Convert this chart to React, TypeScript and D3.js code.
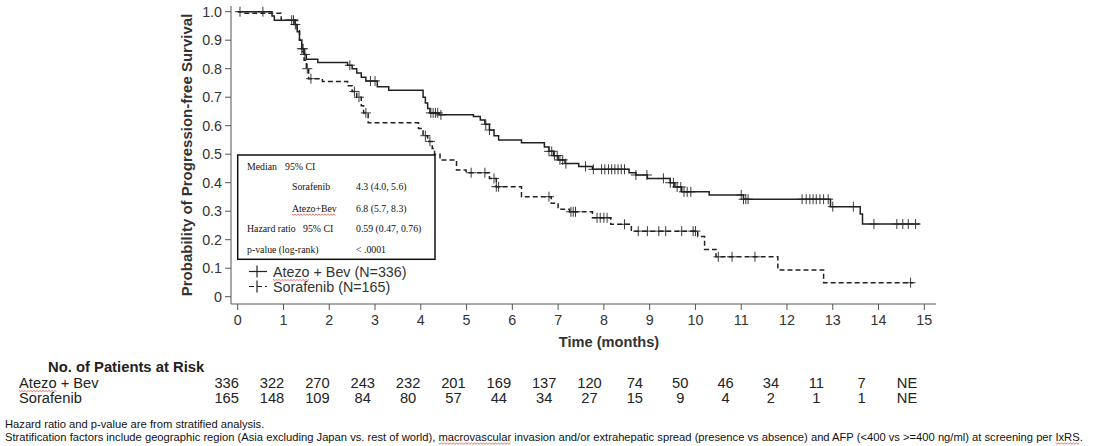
import React, { useEffect, useRef, useState } from "react";
import * as d3 from "d3";

// ---- Data ----
const atezoSteps: [number, number][] = [
  [0, 1.0], [0.75, 0.985], [0.8, 0.97],
  [1.25, 0.955], [1.3, 0.93], [1.35, 0.9], [1.4, 0.87], [1.45, 0.85], [1.5, 0.833],
  [1.75, 0.822],
  [2.4, 0.812], [2.5, 0.8], [2.6, 0.785], [2.7, 0.77], [2.8, 0.757],
  [3.05, 0.737], [3.3, 0.724],
  [4.05, 0.7], [4.1, 0.68], [4.15, 0.66], [4.2, 0.645],
  [4.4, 0.638],
  [5.15, 0.632], [5.3, 0.62], [5.4, 0.605], [5.5, 0.585], [5.6, 0.565], [5.7, 0.55],
  [6.2, 0.54],
  [6.7, 0.525], [6.8, 0.51], [6.9, 0.495], [7.0, 0.48], [7.15, 0.467],
  [7.45, 0.457], [7.75, 0.447], [8.55, 0.435], [8.7, 0.427],
  [8.95, 0.415],
  [9.45, 0.4], [9.55, 0.385], [9.7, 0.368],
  [10.3, 0.357],
  [11.05, 0.342],
  [12.95, 0.316],
  [13.6, 0.29], [13.65, 0.255],
];
const atezoEnd = 14.9;
const atezoCensor: number[] = [
  0.05, 0.55, 1.18, 1.22, 1.26, 1.4, 1.43, 1.47, 2.45, 2.9, 3.0,
  4.22, 4.27, 4.32, 4.37, 4.44, 5.42, 5.5, 6.8, 6.86, 6.92, 6.98, 7.04, 7.1, 7.17,
  7.6, 7.77, 7.95, 8.02, 8.1, 8.17, 8.24, 8.31, 8.38, 8.45, 8.7, 8.94,
  9.3, 9.45, 9.52, 9.6, 9.68, 9.75, 9.82, 9.9,
  11.0, 11.05, 11.1, 11.15, 12.33, 12.42, 12.5, 12.57, 12.64, 12.72, 12.8, 12.9,
  13.0, 13.45, 13.9, 14.4, 14.53, 14.65, 14.81,
];

const soraSteps: [number, number][] = [
  [0, 1.0], [0.1, 0.995], [0.95, 0.97],
  [1.3, 0.94], [1.35, 0.9], [1.4, 0.86], [1.45, 0.83], [1.5, 0.8], [1.55, 0.765],
  [1.85, 0.755],
  [2.4, 0.74], [2.5, 0.72], [2.6, 0.7], [2.7, 0.67], [2.75, 0.645], [2.85, 0.61],
  [3.95, 0.59], [4.05, 0.565], [4.15, 0.545], [4.25, 0.52], [4.3, 0.5],
  [4.42, 0.48],
  [4.78, 0.445], [4.99, 0.435],
  [5.5, 0.415], [5.65, 0.386],
  [6.2, 0.351],
  [6.85, 0.328], [7.0, 0.307], [7.25, 0.298],
  [7.75, 0.277], [8.15, 0.254], [8.6, 0.23],
  [10.05, 0.211], [10.2, 0.166], [10.45, 0.14],
  [11.8, 0.094], [12.8, 0.049],
];
const soraEnd = 14.76;
const soraCensor: number[] = [
  1.52, 1.6, 2.55, 2.65, 2.8, 4.1, 4.2, 5.1, 5.4, 5.6, 5.65, 5.7, 6.8,
  7.28, 7.33, 7.38, 7.85, 7.92, 8.0, 8.07, 8.45, 8.75, 8.95, 9.2, 9.35, 9.7,
  9.95, 10.0, 10.5, 10.8, 11.3, 14.7,
];

const xTicks = d3.range(0, 16);
const yTicks = [0, 0.1, 0.2, 0.3, 0.4, 0.5, 0.6, 0.7, 0.8, 0.9, 1.0];
const riskAtezo = ["336", "322", "270", "243", "232", "201", "169", "137", "120", "74", "50", "46", "34", "11", "7", "NE"];
const riskSora = ["165", "148", "109", "84", "80", "57", "44", "34", "27", "15", "9", "4", "2", "1", "1", "NE"];

const boxRows = [
  { label: "Median", label2: "95% CI", value: "" },
  { label: "", sub: "Sorafenib", value: "4.3 (4.0, 5.6)" },
  { label: "", sub: "Atezo+Bev", value: "6.8 (5.7, 8.3)" },
  { label: "Hazard ratio", label2: "95% CI", value: "0.59 (0.47, 0.76)" },
  { label: "p-value (log-rank)", value: "< .0001" },
];

const footnotes = [
  "Hazard ratio and p-value are from stratified analysis.",
  "Stratification factors include geographic region (Asia excluding Japan vs. rest of world), macrovascular invasion and/or extrahepatic spread (presence vs absence) and AFP (<400 vs >=400 ng/ml) at screening per IxRS.",
];

// ---- Layout ----
const W = 1094;
const H = 446;
const x = d3.scaleLinear().domain([0, 15]).range([237.7, 924.3]);
const y = d3.scaleLinear().domain([0, 1]).range([296.7, 11.7]);
const xr = d3.scaleLinear().domain([0, 15]).range([226.7, 907]);

const SANS = "'Liberation Sans', Arial, sans-serif";
const SERIF = "'Liberation Serif', 'Times New Roman', serif";
const LINE = "#222";
const AXIS = "#555";

function stepValue(steps: [number, number][], t: number) {
  let v = steps[0][1];
  for (const [tt, vv] of steps) {
    if (tt <= t) v = vv;
    else break;
  }
  return v;
}

const lineGen = d3
  .line<[number, number]>()
  .x((d) => x(d[0]))
  .y((d) => y(d[1]))
  .curve(d3.curveStepAfter);

function Curve({ steps, end, censor, dash }: { steps: [number, number][]; end: number; censor: number[]; dash?: string }) {
  const pts: [number, number][] = [...steps, [end, steps[steps.length - 1][1]]];
  return (
    <g>
      <path d={lineGen(pts) || ""} fill="none" stroke={LINE} strokeWidth={1.5} strokeDasharray={dash} />
      {censor.map((t, i) => {
        const cx = x(t);
        const cy = y(stepValue(steps, t));
        return (
          <g key={i} stroke={LINE} strokeWidth={0.9}>
            <line x1={cx} x2={cx} y1={cy - 5} y2={cy + 5} />
            <line x1={cx - 5} x2={cx + 5} y1={cy} y2={cy} />
          </g>
        );
      })}
    </g>
  );
}

function squigglePath(x0: number, x1: number, yy: number) {
  const pts: [number, number][] = [];
  for (let px = x0, k = 0; px <= x1; px += 1.5, k++) pts.push([px, yy + (k % 2 === 0 ? 0 : 1.2)]);
  return d3.line()(pts) || "";
}

// Text with a red spell-check squiggle under a given word
function SText({ word, dy = 3, children, ...props }: any) {
  const ref = useRef<SVGTextElement>(null);
  const [seg, setSeg] = useState<[number, number, number] | null>(null);
  const str: string = String(children);
  useEffect(() => {
    const el = ref.current;
    if (!el || !word) return;
    const idx = str.indexOf(word);
    if (idx < 0) return;
    try {
      const start = idx > 0 ? el.getSubStringLength(0, idx) : 0;
      const w = el.getSubStringLength(idx, word.length);
      const bx = Number(props.x) || 0;
      setSeg([bx + start, bx + start + w, (Number(props.y) || 0) + dy]);
    } catch (e) {
      /* ignore */
    }
  }, [str, word]);
  return (
    <>
      <text ref={ref} {...props}>{children}</text>
      {seg && <path d={squigglePath(seg[0], seg[1], seg[2])} fill="none" stroke="#e03030" strokeWidth={0.7} />}
    </>
  );
}

export default function App() {
  const boxX = 237.7;
  const boxY = 155;
  const boxW = 197.3;
  const boxH = 104.3;
  const rowY = [169.5, 190, 211.5, 231.5, 253];
  return (
    <svg width={W} height={H} style={{ position: "absolute", left: 0, top: 0, background: "#fff" }}>
      {/* Axes */}
      <line x1={231} x2={231} y1={6} y2={304} stroke={AXIS} strokeWidth={1} />
      <line x1={231} x2={936} y1={304} y2={304} stroke={AXIS} strokeWidth={1} />
      {yTicks.map((t) => (
        <g key={t}>
          <line x1={225} x2={231} y1={y(t)} y2={y(t)} stroke={AXIS} />
          <text x={222} y={y(t) + 5} textAnchor="end" fontFamily={SANS} fontSize={14.3} fill="#333">
            {t === 0 ? "0" : t.toFixed(1)}
          </text>
        </g>
      ))}
      {xTicks.map((t) => (
        <g key={t}>
          <line x1={x(t)} x2={x(t)} y1={304} y2={310} stroke={AXIS} />
          <text x={x(t)} y={325} textAnchor="middle" fontFamily={SANS} fontSize={14.3} fill="#333">
            {t}
          </text>
        </g>
      ))}
      <text x={609} y={347} textAnchor="middle" fontFamily={SANS} fontSize={14.6} fontWeight="bold" fill="#333">
        Time (months)
      </text>
      <text
        transform={`translate(192,${155}) rotate(-90)`}
        textAnchor="middle"
        fontFamily={SANS}
        fontSize={15}
        fontWeight="bold"
        fill="#333"
      >
        Probability of Progression-free Survival
      </text>

      {/* Curves */}
      <Curve steps={soraSteps} end={soraEnd} censor={soraCensor} dash="5,3" />
      <Curve steps={atezoSteps} end={atezoEnd} censor={atezoCensor} />

      {/* Stats box */}
      <rect x={boxX} y={boxY} width={boxW} height={boxH} fill="#fff" stroke="#111" strokeWidth={1.5} />
      {boxRows.map((r, i) => (
        <g key={i} fontFamily={SERIF} fontSize={9.8} fill="#111">
          {r.label && <text x={247} y={rowY[i]}>{r.label}</text>}
          {r.label2 && <text x={i === 0 ? 285 : 303} y={rowY[i]}>{r.label2}</text>}
          {r.sub && (
            <SText x={292} y={rowY[i]} word={r.sub === "Atezo+Bev" ? "Atezo+Bev" : ""} dy={2.5}>
              {r.sub}
            </SText>
          )}
          {r.value && <text x={356} y={rowY[i]}>{r.value}</text>}
        </g>
      ))}

      {/* Legend */}
      <g stroke={LINE} strokeWidth={1.2}>
        <line x1={249} x2={267} y1={271.5} y2={271.5} />
        <line x1={257} x2={257} y1={265.5} y2={277.5} />
        <line x1={249} x2={267} y1={286.5} y2={286.5} strokeDasharray="5,3" />
        <line x1={257} x2={257} y1={280.5} y2={292.5} />
      </g>
      <SText x={273} y={276.5} fontFamily={SANS} fontSize={14.3} fill="#333" word="Atezo">
        Atezo + Bev (N=336)
      </SText>
      <text x={273} y={291.5} fontFamily={SANS} fontSize={14.3} fill="#333">Sorafenib (N=165)</text>

      {/* Risk table */}
      <text x={48} y={372} fontFamily={SANS} fontSize={14.8} fontWeight="bold" fill="#222">No. of Patients at Risk</text>
      <SText x={19} y={387.5} fontFamily={SANS} fontSize={14.7} fill="#222" word="Atezo">
        Atezo + Bev
      </SText>
      <text x={19} y={402.5} fontFamily={SANS} fontSize={14.7} fill="#222">Sorafenib</text>
      {riskAtezo.map((v, i) => (
        <text key={"a" + i} x={xr(i)} y={387.5} textAnchor="middle" fontFamily={SANS} fontSize={14.7} fill="#222">{v}</text>
      ))}
      {riskSora.map((v, i) => (
        <text key={"s" + i} x={xr(i)} y={402.5} textAnchor="middle" fontFamily={SANS} fontSize={14.7} fill="#222">{v}</text>
      ))}

      {/* Footnotes */}
      <text x={5} y={427.5} fontFamily={SANS} fontSize={11.2} fill="#111">{footnotes[0]}</text>
      <SText x={5} y={441} fontFamily={SANS} fontSize={11.2} fill="#111" word="macrovascular" dy={2}>
        {footnotes[1]}
      </SText>
      <SText x={5} y={441} fontFamily={SANS} fontSize={11.2} fill="none" word="IxRS" dy={2}>
        {footnotes[1]}
      </SText>
    </svg>
  );
}
